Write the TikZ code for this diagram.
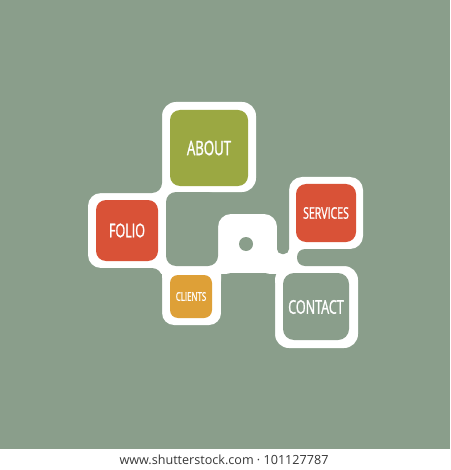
\documentclass[tikz,border=0pt]{standalone}
\usepackage{fontspec}
\newfontfamily\lblfont[FakeStretch=0.66,FakeBold=1.2]{Open Sans}
\newfontfamily\urlfont{Open Sans}
\definecolor{bg}{RGB}{138,158,139}
\definecolor{olivebox}{RGB}{155,168,66}
\definecolor{redbox}{RGB}{217,82,55}
\definecolor{orangebox}{RGB}{222,160,55}
\definecolor{urlgray}{RGB}{55,55,55}
\tikzset{
  wht/.style={fill=white},
  carve/.style={fill=bg},
  tile/.style={inner sep=0pt, rounded corners=10pt, text=white},
}
\begin{document}
\begin{tikzpicture}[x=1pt,y=-1pt]
\fill[bg] (0,0) rectangle (450,470);
\useasboundingbox (0,0) rectangle (450,470);
% white frames (convex corners)
\fill[wht, rounded corners=14pt] (162,102) rectangle (256,192);
\fill[wht, rounded corners=13pt] (88,193) rectangle (166,268);
\fill[wht, rounded corners=13pt] (218,214) rectangle (277,272);
\fill[wht, rounded corners=13pt] (289,177) rectangle (363,249);
\fill[wht, rounded corners=14pt] (275,266) rectangle (358,348);
\fill[wht, rounded corners=12pt] (162,262) rectangle (221,325);
% joint fills
\fill[wht] (150,178) rectangle (178,206);
\fill[wht] (150,255) rectangle (290,274);
\fill[wht] (268,236) rectangle (306,272);
% carved background regions (concave corners)
\fill[carve, rounded corners=10pt] (40,40) rectangle (162,193);
\fill[carve, rounded corners=10pt] (166,192) rectangle (218,266);
\fill[carve, rounded corners=5pt] (277,160) rectangle (289,254);
\fill[carve, rounded corners=10pt] (40,268) rectangle (162,420);
\fill[carve, rounded corners=10pt] (221,273) rectangle (275,420);
\fill[carve, rounded corners=8pt] (297,249) rectangle (420,266);
\fill[carve] (246,244) circle (7);
\fill[carve, rounded corners=11pt] (283,273) rectangle (349,340);
% tiles
\node[tile, fill=olivebox, minimum width=78pt, minimum height=76pt, font=\lblfont\fontsize{20}{20}\selectfont] (about) at (209,148) {ABOUT};
\node[tile, fill=redbox, minimum width=62pt, minimum height=61pt, font=\lblfont\fontsize{19}{19}\selectfont] (folio) at (127,230.5) {FOLIO};
\node[tile, fill=redbox, minimum width=60pt, minimum height=58pt, font=\lblfont\fontsize{16}{16}\selectfont] (services) at (326,213) {SERVICES};
\node[tile, fill=orangebox, rounded corners=8pt, minimum width=42pt, minimum height=43pt, font=\lblfont\fontsize{12}{12}\selectfont] (clients) at (191,296.5) {CLIENTS};
\node[inner sep=0pt, text=white, font=\lblfont\fontsize{19}{19}\selectfont] (contact) at (316,307) {CONTACT};
% bottom strip
\fill[white] (0,449) rectangle (450,470);
\node[inner sep=0pt, text=urlgray, font=\urlfont\fontsize{12.6}{12.6}\selectfont] (url) at (224,459.5) {www.shutterstock.com · 101127787};
\end{tikzpicture}
\end{document}
